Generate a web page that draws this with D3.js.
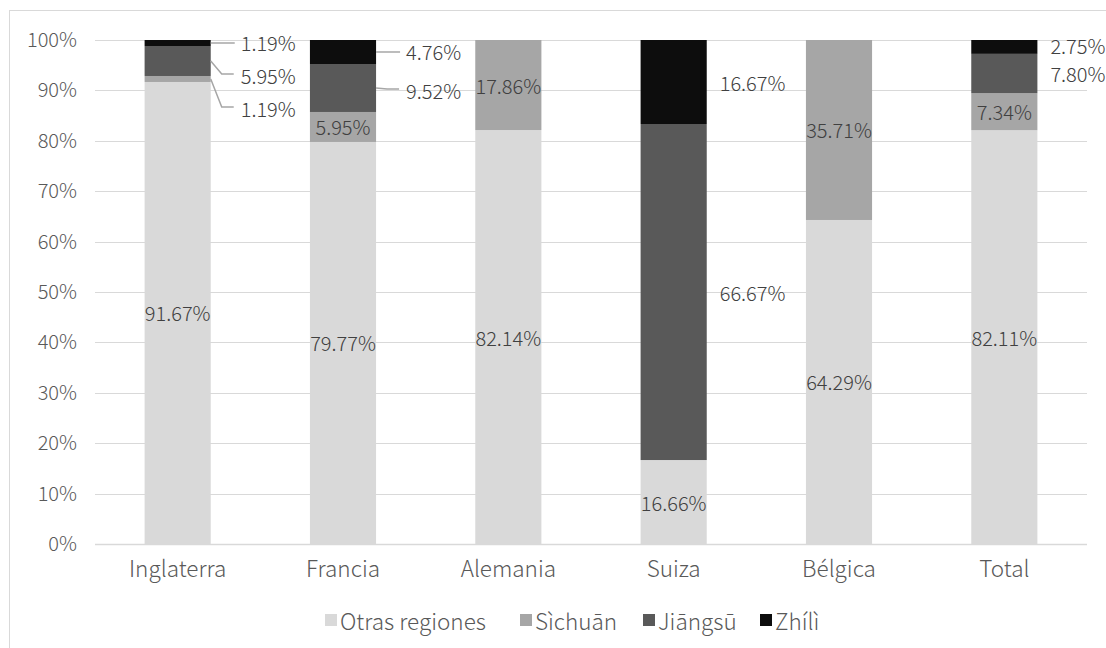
<!DOCTYPE html>
<html>
<head>
<meta charset="utf-8">
<script src="https://cdn.jsdelivr.net/npm/d3@7"></script>
<style>
  html, body { margin: 0; padding: 0; background: #fff; }
  svg text { font-family: "Noto Sans CJK SC", "Noto Sans", sans-serif; font-weight: 300; }
</style>
</head>
<body>
<svg id="chart" width="1106" height="648"></svg>
<script>
// Share of students by region of origin, per country of study (%)
const categories = ["Inglaterra", "Francia", "Alemania", "Suiza", "Bélgica", "Total"];
const seriesNames = ["Otras regiones", "Sìchuān", "Jiāngsū", "Zhílì"];
const otras   = [91.67, 79.77, 82.14, 16.66, 64.29, 82.11];
const sichuan = [1.19, 5.95, 17.86, 0, 35.71, 7.34];
const jiangsu = [5.95, 9.52, 0, 66.67, 0, 7.80];
const zhili   = [1.19, 4.76, 0, 16.67, 0, 2.75];
const yTicks  = [0, 10, 20, 30, 40, 50, 60, 70, 80, 90, 100];
const colors  = ["#d9d9d9", "#a6a6a6", "#595959", "#0d0d0d"];

const seriesValues = [otras, sichuan, jiangsu, zhili];
const rows = categories.map((c, i) => {
  const r = { cat: c };
  seriesNames.forEach((s, k) => r[s] = seriesValues[k][i]);
  return r;
});

const svg = d3.select("#chart");
const W = 1106, H = 648;
const m = { left: 95, right: 19, top: 40, bottom: 104 };
const valueFont = "20px", axisFont = "20px", catFont = "22.5px", legendFont = "22.5px";

// outer frame
svg.append("rect").attr("x", 9.5).attr("y", 10.5)
  .attr("width", W).attr("height", H)
  .attr("fill", "none").attr("stroke", "#d9d9d9").attr("stroke-width", 1);

const x = d3.scaleBand().domain(categories)
  .range([m.left, W - m.right]).paddingInner(0.6).paddingOuter(0.3);
const y = d3.scaleLinear().domain([0, 100]).range([H - m.bottom, m.top]);

// gridlines
svg.append("g").selectAll("line").data(yTicks).join("line")
  .attr("x1", m.left).attr("x2", W - m.right)
  .attr("y1", d => Math.round(y(d)) + 0.5).attr("y2", d => Math.round(y(d)) + 0.5)
  .attr("stroke", "#d9d9d9").attr("stroke-width", d => d === 0 ? 1.5 : 1.2);

// y axis labels
const yAxis = d3.axisLeft(y).tickValues(yTicks).tickFormat(d => d + "%").tickSize(0).tickPadding(0);
const gy = svg.append("g").attr("transform", `translate(77,0)`).call(yAxis);
gy.select(".domain").remove();
gy.selectAll("text").attr("fill", "#595959").style("font-size", axisFont)
  .style("font-family", '"Noto Sans CJK SC", sans-serif').style("font-weight", 300);

// x axis labels
const xAxis = d3.axisBottom(x).tickSize(0).tickPadding(0);
const gx = svg.append("g").attr("transform", `translate(0,${H - m.bottom + 17})`).call(xAxis);
gx.select(".domain").remove();
gx.selectAll("text").attr("fill", "#595959").style("font-size", catFont)
  .style("font-family", '"Noto Sans CJK SC", sans-serif').style("font-weight", 300);

// stacked bars
const stacked = d3.stack().keys(seriesNames)(rows);
const layers = svg.append("g").selectAll("g").data(stacked).join("g")
  .attr("fill", (d, i) => colors[i]);
layers.selectAll("rect").data(d => d).join("rect")
  .attr("x", d => x(d.data.cat))
  .attr("width", x.bandwidth())
  .attr("y", d => y(d[1]))
  .attr("height", d => y(d[0]) - y(d[1]));

// callout placement for labels that sit beside the bar
// mode "side": label right of bar at segment height; "lead": with leader line
const callouts = {
  "Inglaterra|Zhílì":   { mode: "lead", dy: 0 },
  "Inglaterra|Jiāngsū": { mode: "lead", dy: 15 },
  "Inglaterra|Sìchuān": { mode: "lead", dy: 30 },
  "Francia|Zhílì":      { mode: "lead", dy: 0 },
  "Francia|Jiāngsū":    { mode: "lead", dy: 3 },
  "Suiza|Zhílì":        { mode: "side", dy: 0 },
  "Suiza|Jiāngsū":      { mode: "side", dy: 0 },
  "Total|Zhílì":        { mode: "side", dy: -1 },
  "Total|Jiāngsū":      { mode: "side", dy: 0 }
};

const labels = svg.append("g");
stacked.forEach((layer) => {
  layer.forEach(d => {
    const v = d[1] - d[0];
    if (v <= 0) return;
    const cat = d.data.cat;
    const key = cat + "|" + layer.key;
    const cy = (y(d[0]) + y(d[1])) / 2;
    const right = x(cat) + x.bandwidth();
    const txt = v.toFixed(2) + "%";
    const c = callouts[key];
    if (!c) {
      labels.append("text")
        .attr("x", x(cat) + x.bandwidth() / 2).attr("y", cy)
        .attr("text-anchor", "middle").attr("dominant-baseline", "central")
        .attr("fill", "#404040").style("font-size", valueFont).text(txt);
    } else if (c.mode === "side") {
      labels.append("text")
        .attr("x", right + 13).attr("y", cy + c.dy)
        .attr("dominant-baseline", "central")
        .attr("fill", "#404040").style("font-size", valueFont).text(txt);
    } else {
      const ly = cy + c.dy;
      const pts = c.dy > 2
        ? [[right, cy], [right + 11, ly - 2], [right + 23, ly - 2]]
        : [[right, cy], [right + 24, cy]];
      labels.append("path")
        .attr("d", d3.line()(pts))
        .attr("fill", "none").attr("stroke", "#a6a6a6").attr("stroke-width", 1.5);
      labels.append("text")
        .attr("x", right + 30).attr("y", ly)
        .attr("dominant-baseline", "central")
        .attr("fill", "#404040").style("font-size", valueFont).text(txt);
    }
  });
});

// legend
const legendX = [325, 520, 643, 760];
const legend = svg.append("g").attr("transform", `translate(0,620)`);
seriesNames.forEach((s, i) => {
  legend.append("rect").attr("x", legendX[i]).attr("y", -6)
    .attr("width", 12).attr("height", 12).attr("fill", colors[i]);
  legend.append("text").attr("x", legendX[i] + 15).attr("y", 0)
    .attr("dominant-baseline", "central")
    .attr("fill", "#595959").style("font-size", legendFont).text(s);
});
</script>
</body>
</html>
